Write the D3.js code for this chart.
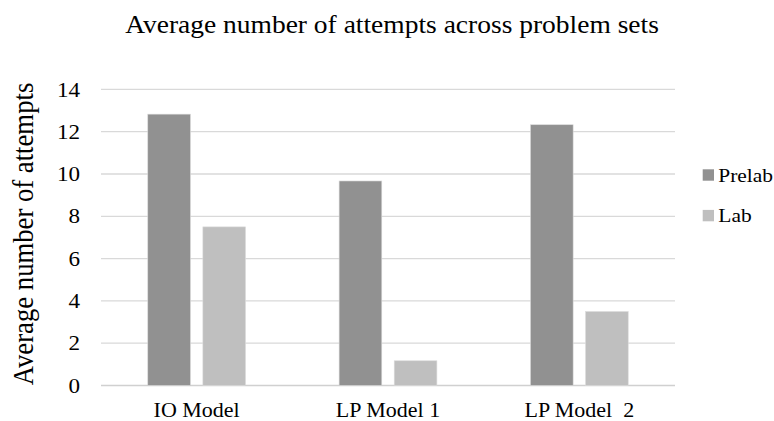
<!DOCTYPE html>
<html>
<head>
<meta charset="utf-8">
<script src="https://cdn.jsdelivr.net/npm/d3@7"></script>
<style>
  html, body { margin: 0; padding: 0; background: #fff; }
  svg { display: block; }
  text { font-family: "Liberation Serif"; fill: #000; white-space: pre; }
</style>
</head>
<body>
<script>
// Chart data
const categories = ["IO Model", "LP Model 1", "LP Model  2"];
const seriesNames = ["Prelab", "Lab"];
const prelabValues = [12.83, 9.67, 12.33];
const labValues = [7.5, 1.17, 3.5];
const yTicks = [0, 2, 4, 6, 8, 10, 12, 14];
const colors = ["#919191", "#bfbfbf"];

const rows = categories.map((c, i) => ({
  category: c,
  values: [
    { series: seriesNames[0], value: prelabValues[i] },
    { series: seriesNames[1], value: labValues[i] }
  ]
}));

const W = 774, H = 421;
// Glyphs are drawn slightly wide
const textStretch = 1.1;
const place = (x, y, extra = "") => `translate(${x},${y}) scale(${textStretch},1)${extra}`;

const svg = d3.select("body").append("svg")
  .attr("width", W)
  .attr("height", H);

const plot = { left: 101, right: 675, top: 89.4, bottom: 385.5 };

const x0 = d3.scaleBand()
  .domain(categories)
  .range([plot.left, plot.right]);

const x1 = d3.scaleBand()
  .domain(seriesNames)
  .range([0, x0.bandwidth()])
  .paddingInner(0.225)
  .paddingOuter(0.849);

const y = d3.scaleLinear()
  .domain([0, 14])
  .range([plot.bottom, plot.top]);

// Horizontal gridlines
svg.append("g")
  .selectAll("line")
  .data(yTicks)
  .join("line")
  .attr("x1", plot.left)
  .attr("x2", plot.right)
  .attr("y1", d => y(d))
  .attr("y2", d => y(d))
  .attr("stroke", d => d === 0 ? "#d0d0d0" : "#d9d9d9")
  .attr("stroke-width", 1.3);

// Bars
svg.append("g")
  .selectAll("g")
  .data(rows)
  .join("g")
  .attr("transform", d => `translate(${x0(d.category)},0)`)
  .selectAll("rect")
  .data(d => d.values)
  .join("rect")
  .attr("x", d => x1(d.series))
  .attr("width", x1.bandwidth())
  .attr("y", d => y(d.value))
  .attr("height", d => y(0) - y(d.value))
  .attr("fill", (d, i) => colors[i])
  .attr("stroke", "#dcdcdc")
  .attr("stroke-width", 0.6);

// Y tick labels
svg.append("g")
  .selectAll("text")
  .data(yTicks)
  .join("text")
  .attr("transform", d => place(80, y(d)))
  .attr("dy", "0.34em")
  .attr("text-anchor", "end")
  .attr("font-size", 21)
  .text(d3.format("d"));

// X category labels
svg.append("g")
  .selectAll("text")
  .data(categories)
  .join("text")
  .attr("transform", d => place(x0(d) + x0.bandwidth() / 2, 416.7))
  .attr("text-anchor", "middle")
  .attr("font-size", 20)
  .text(d => d);

// Chart title
svg.append("text")
  .attr("transform", place(392, 33))
  .attr("text-anchor", "middle")
  .attr("font-size", 25)
  .text("Average number of attempts across problem sets");

// Y axis title
svg.append("text")
  .attr("transform", place(33.3, 234, " rotate(-90)"))
  .attr("text-anchor", "middle")
  .attr("font-size", 26.7)
  .text("Average number of attempts");

// Legend
const legend = svg.append("g")
  .selectAll("g")
  .data(seriesNames)
  .join("g")
  .attr("transform", (d, i) => `translate(702.7,${i === 0 ? 181.7 : 222.3})`);
legend.append("rect")
  .attr("x", 0)
  .attr("y", -12.4)
  .attr("width", 11.3)
  .attr("height", 11.4)
  .attr("fill", (d, i) => colors[i]);
legend.append("text")
  .attr("transform", place(15.6, 0))
  .attr("font-size", 19.5)
  .text(d => d);
</script>
</body>
</html>
